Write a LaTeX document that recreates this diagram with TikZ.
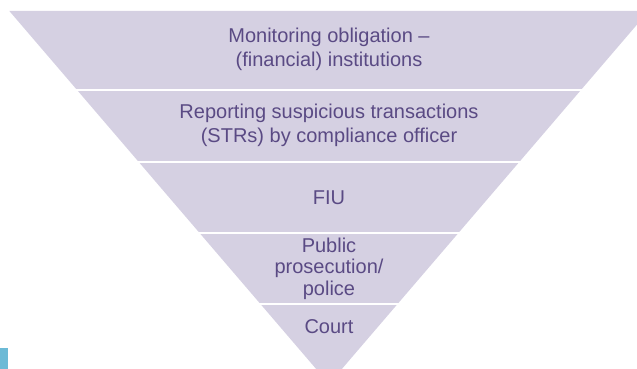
\documentclass[tikz,border=0pt]{standalone}
\usepackage{fontspec}
\setmainfont{Liberation Sans}
\definecolor{bandfill}{HTML}{D5D0E2}
\definecolor{bandtext}{HTML}{5A4A84}
\definecolor{tabblue}{HTML}{6CBAD6}
\begin{document}
\begin{tikzpicture}[x=1pt, y=1pt, font=\fontsize{20}{23.5}\selectfont, line join=round,
	label/.style={text=bandtext, align=center, inner sep=0pt}]
	\def\cx{329} \def\tip{-15} \def\k{0.857} \def\top{358}
	\pgfmathsetmacro\hw{\k*(\top-\tip)}
	\useasboundingbox (0,0) rectangle (637,369);
	\begin{scope}
		\clip (0,0) rectangle (637,369);
		\fill[bandfill] (\cx-\hw,\top) -- (\cx+\hw,\top) -- (\cx,\tip) -- cycle;
		%\draw[red] (\cx,0)--(\cx,369);
		\foreach \y in {279,207,136,65} \draw[white, line width=2pt] (0,\y) -- (637,\y);
	\end{scope}
	\node[label] (monitor) at (\cx,319.5) {Monitoring obligation --\\(financial) institutions};
	\node[label] (report) at (\cx,243.5) {Reporting suspicious transactions\\(STRs) by compliance officer};
	\node[label] (fiu) at (\cx,171) {FIU};
	\node[label, font=\fontsize{20}{21.5}\selectfont] (prosecution) at (\cx,100.5) {Public\\prosecution/\\police};
	\node[label] (court) at (\cx,42) {Court};
	\fill[tabblue] (0,0) rectangle (8,21);
\end{tikzpicture}
\end{document}
